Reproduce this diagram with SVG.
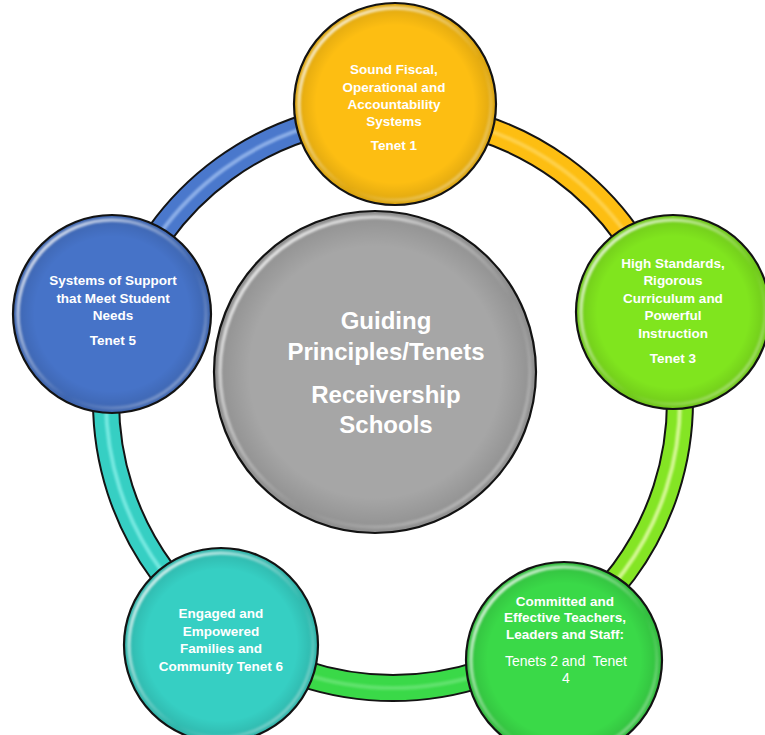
<svg xmlns="http://www.w3.org/2000/svg" width="765" height="735" viewBox="0 0 765 735">
  <defs>
    <style>
      .lbl { font-family: "Liberation Sans", Arial, sans-serif; font-weight: bold; font-size: 13.5px; fill: #ffffff; text-anchor: middle; }
      .reg { font-weight: normal; font-size: 14px; }
      .big { font-size: 24px; }
      .rim { stroke: #141414; stroke-width: 2.2; }
      .shade { fill: url(#shade); }
      .sheen { fill: none; stroke: url(#sheen); stroke-width: 3.5; filter: url(#soft); }
      .seg-out { fill: none; stroke: #141414; stroke-width: 28; }
      .seg-in { fill: none; stroke-width: 24; }
      .seg-hi { fill: none; stroke-width: 4; opacity: 0.7; filter: url(#soft); }
    </style>
    <radialGradient id="shade" cx="0.5" cy="0.5" r="0.5">
      <stop offset="0.78" stop-color="#000" stop-opacity="0"/>
      <stop offset="1" stop-color="#000" stop-opacity="0.14"/>
    </radialGradient>
    <linearGradient id="sheen" x1="0" y1="0" x2="1" y2="1">
      <stop offset="0" stop-color="#fff" stop-opacity="0.95"/>
      <stop offset="0.45" stop-color="#fff" stop-opacity="0.25"/>
      <stop offset="0.6" stop-color="#fff" stop-opacity="0"/>
      <stop offset="0.9" stop-color="#fff" stop-opacity="0.35"/>
    </linearGradient>
    <filter id="soft" x="-10%" y="-10%" width="120%" height="120%">
      <feGaussianBlur stdDeviation="1"/>
    </filter>
  </defs>

  <!-- ring joining the five tenets -->
  <g id="connectors">
    <g id="arc-1-3">
      <path class="seg-out" d="M393 114 A287 287 0 0 1 665.95 312.31"/>
      <path class="seg-in" stroke="#FDBE12" d="M393 114 A287 287 0 0 1 665.95 312.31"/>
      <path class="seg-hi" stroke="#FFD860" d="M393 114 A287 287 0 0 1 665.95 312.31"/>
    </g>
    <g id="arc-3-24">
      <path class="seg-out" d="M665.95 312.31 A287 287 0 0 1 561.7 633.19"/>
      <path class="seg-in" stroke="#84E524" d="M665.95 312.31 A287 287 0 0 1 561.7 633.19"/>
      <path class="seg-hi" stroke="#F4FFC0" d="M665.95 312.31 A287 287 0 0 1 561.7 633.19"/>
    </g>
    <g id="arc-24-6">
      <path class="seg-out" d="M561.7 633.19 A287 287 0 0 1 224.3 633.19"/>
      <path class="seg-in" stroke="#3AD948" d="M561.7 633.19 A287 287 0 0 1 224.3 633.19"/>
      <path class="seg-hi" stroke="#6FE67B" d="M561.7 633.19 A287 287 0 0 1 224.3 633.19"/>
    </g>
    <g id="arc-6-5">
      <path class="seg-out" d="M224.3 633.19 A287 287 0 0 1 120.05 312.31"/>
      <path class="seg-in" stroke="#36CFC3" d="M224.3 633.19 A287 287 0 0 1 120.05 312.31"/>
      <path class="seg-hi" stroke="#8FF3EC" d="M224.3 633.19 A287 287 0 0 1 120.05 312.31"/>
    </g>
    <g id="arc-5-1">
      <path class="seg-out" d="M120.05 312.31 A287 287 0 0 1 393 114"/>
      <path class="seg-in" stroke="#4A78CC" d="M120.05 312.31 A287 287 0 0 1 393 114"/>
      <path class="seg-hi" stroke="#A8C6F4" d="M120.05 312.31 A287 287 0 0 1 393 114"/>
    </g>
  </g>

  <!-- centre: guiding principles -->
  <g id="node-center">
    <circle class="rim" cx="375" cy="372" r="161" fill="#A6A6A6"/>
    <circle class="shade" cx="375" cy="372" r="161"/>
    <circle class="sheen" cx="375" cy="372" r="155"/>
    <text class="lbl big" x="386" y="329">Guiding</text>
    <text class="lbl big" x="386" y="360">Principles/Tenets</text>
    <text class="lbl big" x="386" y="403">Receivership</text>
    <text class="lbl big" x="386" y="433">Schools</text>
  </g>

  <!-- Tenet 1 -->
  <g id="node-tenet1">
    <circle class="rim" cx="395" cy="104" r="101" fill="#FDBE12"/>
    <circle class="shade" cx="395" cy="104" r="101"/>
    <circle class="sheen" cx="395" cy="104" r="96"/>
    <text class="lbl" x="394" y="74">Sound Fiscal,</text>
    <text class="lbl" x="394" y="91.5">Operational and</text>
    <text class="lbl" x="394" y="109">Accountability</text>
    <text class="lbl" x="394" y="126">Systems</text>
    <text class="lbl" x="394" y="150">Tenet 1</text>
  </g>

  <!-- Tenet 3 -->
  <g id="node-tenet3">
    <circle class="rim" cx="673" cy="312" r="97" fill="#80E51E"/>
    <circle class="shade" cx="673" cy="312" r="97"/>
    <circle class="sheen" cx="673" cy="312" r="92"/>
    <text class="lbl" x="673" y="268">High Standards,</text>
    <text class="lbl" x="673" y="285">Rigorous</text>
    <text class="lbl" x="673" y="302.5">Curriculum and</text>
    <text class="lbl" x="673" y="320">Powerful</text>
    <text class="lbl" x="673" y="337.5">Instruction</text>
    <text class="lbl" x="673" y="362.5">Tenet 3</text>
  </g>

  <!-- Tenets 2 and 4 -->
  <g id="node-tenets2-4">
    <circle class="rim" cx="564" cy="660" r="98" fill="#3AD948"/>
    <circle class="shade" cx="564" cy="660" r="98"/>
    <circle class="sheen" cx="564" cy="660" r="93"/>
    <text class="lbl" x="565" y="606">Committed and</text>
    <text class="lbl" x="565" y="622">Effective Teachers,</text>
    <text class="lbl" x="565" y="638.5">Leaders and Staff:</text>
    <text class="lbl reg" x="566" y="666">Tenets 2 and&#160; Tenet</text>
    <text class="lbl reg" x="566" y="682.5">4</text>
  </g>

  <!-- Tenet 6 -->
  <g id="node-tenet6">
    <circle class="rim" cx="221" cy="645" r="97" fill="#36CFC3"/>
    <circle class="shade" cx="221" cy="645" r="97"/>
    <circle class="sheen" cx="221" cy="645" r="92"/>
    <text class="lbl" x="221" y="618">Engaged and</text>
    <text class="lbl" x="221" y="635.5">Empowered</text>
    <text class="lbl" x="221" y="653">Families and</text>
    <text class="lbl" x="221" y="671">Community Tenet 6</text>
  </g>

  <!-- Tenet 5 -->
  <g id="node-tenet5">
    <circle class="rim" cx="112" cy="314" r="99" fill="#4673C8"/>
    <circle class="shade" cx="112" cy="314" r="99"/>
    <circle class="sheen" cx="112" cy="314" r="94"/>
    <text class="lbl" x="113" y="285">Systems of Support</text>
    <text class="lbl" x="113" y="302.5">that Meet Student</text>
    <text class="lbl" x="113" y="320">Needs</text>
    <text class="lbl" x="113" y="345">Tenet 5</text>
  </g>
</svg>
